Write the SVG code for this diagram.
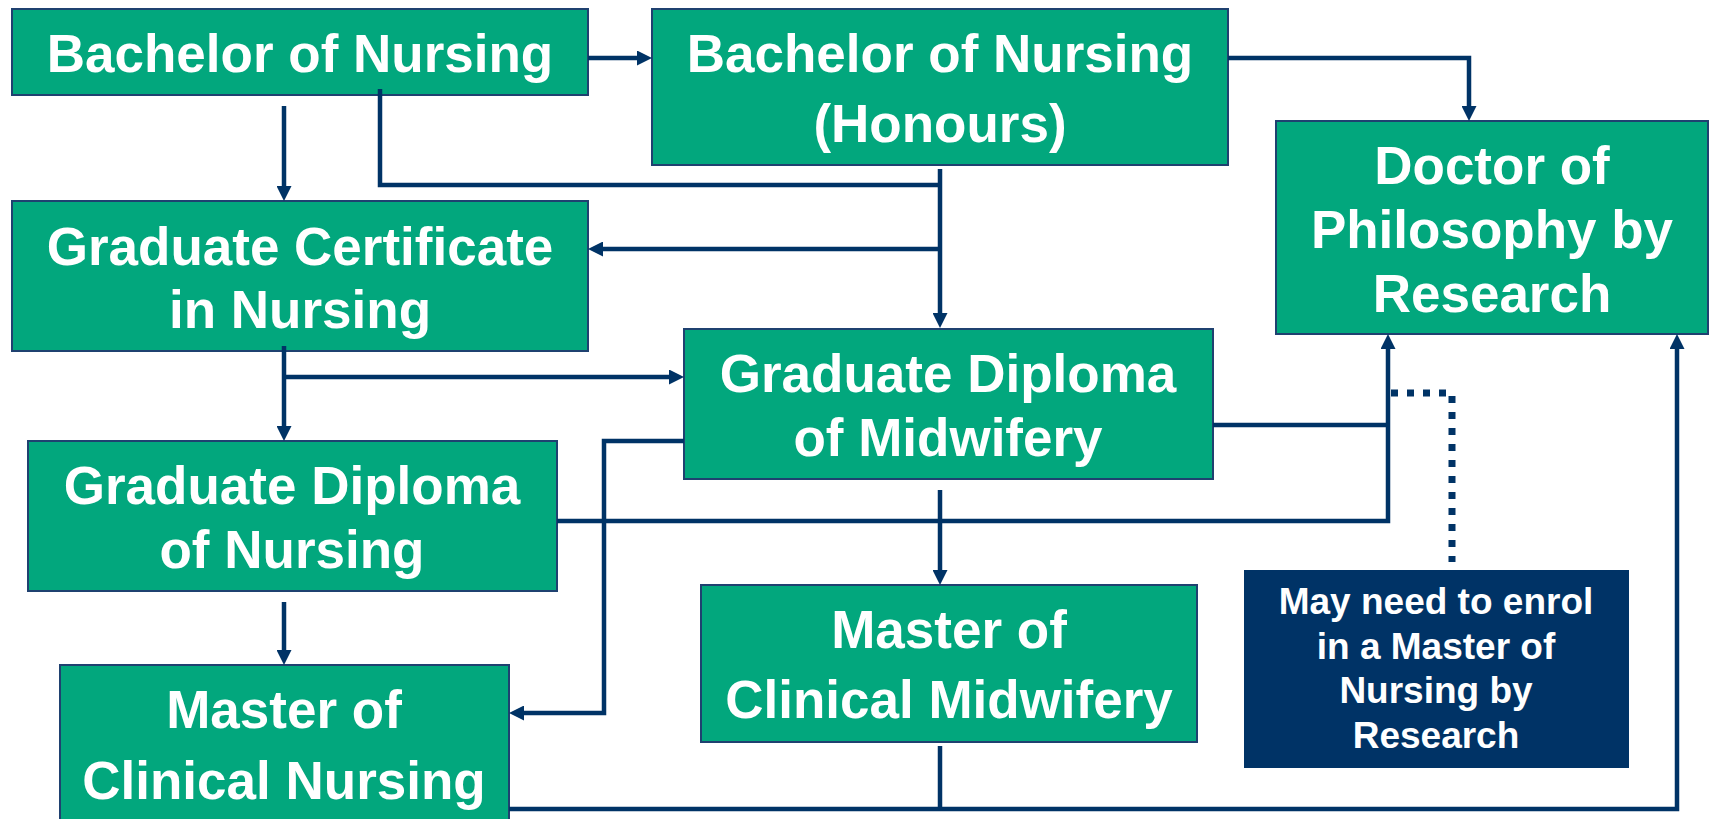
<svg xmlns="http://www.w3.org/2000/svg" width="1712" height="819" viewBox="0 0 1712 819">
<style>
.box{fill:#02A77D;stroke:#1F4170;stroke-width:2}
.note{fill:#003366}
.t{font-family:"Liberation Sans",Arial,sans-serif;font-weight:bold;font-size:53px;fill:#ffffff;text-anchor:middle}
.tn{font-family:"Liberation Sans",Arial,sans-serif;font-weight:bold;font-size:37px;fill:#ffffff;text-anchor:middle}
.c{fill:none;stroke:#003366;stroke-width:4.5}
.a{marker-end:url(#ah)}
.d{fill:none;stroke:#003366;stroke-width:7;stroke-dasharray:7 9}
</style>
<defs>
<marker id="ah" markerUnits="userSpaceOnUse" markerWidth="15" markerHeight="15" refX="7" refY="7.5" orient="auto">
<path d="M0,0 L15,7.5 L0,15 z" fill="#003366"/>
</marker>
</defs>
<rect width="1712" height="819" fill="#ffffff"/>
<g id="bachelor">
<rect class="box" x="12" y="9" width="576" height="86"/>
<text class="t" x="300" y="72">Bachelor of Nursing</text>
</g>
<g id="honours">
<rect class="box" x="652" y="9" width="576" height="156"/>
<text class="t" x="940" y="72">Bachelor of Nursing</text>
<text class="t" x="940" y="142">(Honours)</text>
</g>
<g id="gradcert">
<rect class="box" x="12" y="201" width="576" height="150"/>
<text class="t" x="300" y="265">Graduate Certificate</text>
<text class="t" x="300" y="328">in Nursing</text>
</g>
<g id="phd">
<rect class="box" x="1276" y="121" width="432" height="213"/>
<text class="t" x="1492" y="184">Doctor of</text>
<text class="t" x="1492" y="248">Philosophy by</text>
<text class="t" x="1492" y="312">Research</text>
</g>
<g id="gdmidwifery">
<rect class="box" x="684" y="329" width="529" height="150"/>
<text class="t" x="948" y="392">Graduate Diploma</text>
<text class="t" x="948" y="456">of Midwifery</text>
</g>
<g id="gdnursing">
<rect class="box" x="28" y="441" width="529" height="150"/>
<text class="t" x="292" y="504">Graduate Diploma</text>
<text class="t" x="292" y="568">of Nursing</text>
</g>
<g id="mcnursing">
<rect class="box" x="60" y="665" width="449" height="170"/>
<text class="t" x="284" y="728">Master of</text>
<text class="t" x="284" y="799">Clinical Nursing</text>
</g>
<g id="mcmidwifery">
<rect class="box" x="701" y="585" width="496" height="157"/>
<text class="t" x="949" y="648">Master of</text>
<text class="t" x="949" y="718">Clinical Midwifery</text>
</g>
<g id="note">
<rect class="note" x="1244" y="570" width="385" height="198"/>
<text class="tn" x="1436" y="614">May need to enrol</text>
<text class="tn" x="1436" y="659">in a Master of</text>
<text class="tn" x="1436" y="703">Nursing by</text>
<text class="tn" x="1436" y="748">Research</text>
</g>
<g id="connectors">
<path class="c a" d="M588,58 H644"/>
<path class="c a" d="M284,106 V193"/>
<path class="c" d="M380,89 V185 H940"/>
<path class="c a" d="M940,169 V320"/>
<path class="c a" d="M940,249 H596"/>
<path class="c a" d="M1228,58 H1469 V113"/>
<path class="c a" d="M284,346 V433"/>
<path class="c a" d="M284,377 H676"/>
<path class="c a" d="M684,441 H604 V713 H517"/>
<path class="c a" d="M557,521 H1388 V342"/>
<path class="c" d="M1213,425 H1388"/>
<path class="c a" d="M940,490 V577"/>
<path class="c a" d="M284,602 V657"/>
<path class="c a" d="M509,809 H1677 V342"/>
<path class="c" d="M940,746 V809"/>
<path class="d" d="M1391,393 H1452 V562"/>
</g>
</svg>
